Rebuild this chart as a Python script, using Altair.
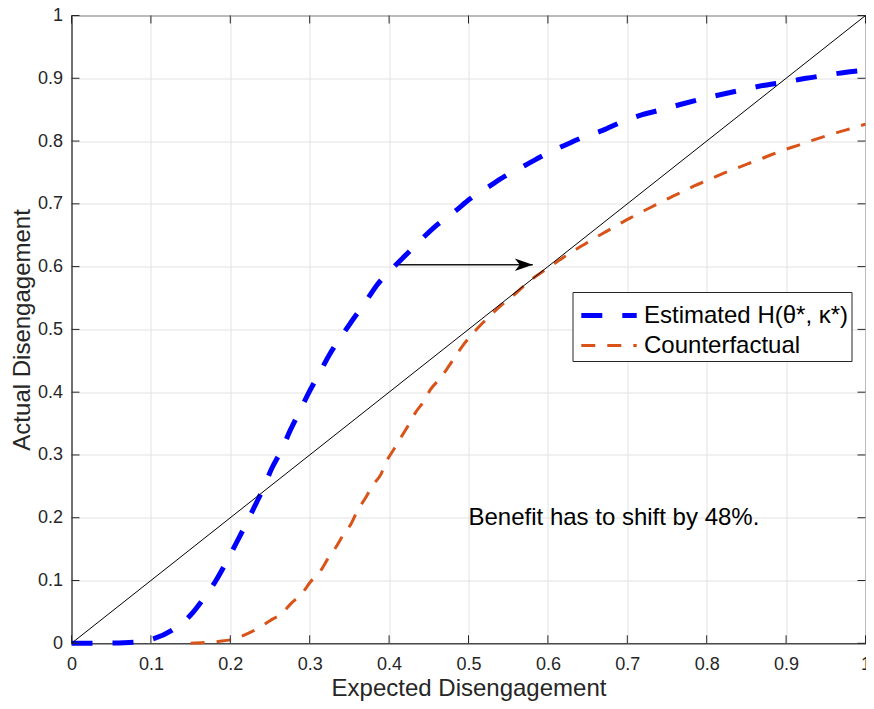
import altair as alt
import pandas as pd

# ---- data ----
series_names = ["Estimated H(θ*, κ*)", "Counterfactual"]

est_x = [0, 0.05, 0.08, 0.10, 0.127, 0.15, 0.165, 0.181, 0.194, 0.206, 0.219, 0.231, 0.242,
         0.252, 0.265, 0.275, 0.2875, 0.30, 0.3125, 0.325, 0.34, 0.354, 0.371, 0.385, 0.404,
         0.423, 0.442, 0.46, 0.483, 0.502, 0.525, 0.546, 0.571, 0.594, 0.619, 0.642, 0.669,
         0.692, 0.719, 0.743, 0.769, 0.794, 0.821, 0.847, 0.873, 0.899, 0.925, 0.951, 0.978, 1.0]
est_y = [0, 0.0005, 0.002, 0.006, 0.021, 0.045, 0.069, 0.098, 0.127, 0.156, 0.188, 0.219, 0.248,
         0.278, 0.309, 0.338, 0.370, 0.402, 0.431, 0.460, 0.489, 0.515, 0.545, 0.571, 0.597,
         0.621, 0.645, 0.666, 0.688, 0.708, 0.727, 0.744, 0.761, 0.777, 0.792, 0.805, 0.817,
         0.830, 0.842, 0.850, 0.859, 0.867, 0.875, 0.882, 0.889, 0.894, 0.900, 0.905, 0.910, 0.913]

cf_x = [0.15, 0.185, 0.202, 0.221, 0.235, 0.25, 0.265, 0.277, 0.29, 0.301, 0.314, 0.323, 0.333,
        0.342, 0.352, 0.36, 0.371, 0.379, 0.39, 0.396, 0.406, 0.415, 0.425, 0.433, 0.444, 0.452,
        0.465, 0.475, 0.485, 0.494, 0.52, 0.54, 0.56, 0.577, 0.598, 0.614, 0.627, 0.644, 0.658,
        0.675, 0.69, 0.706, 0.721, 0.737, 0.754, 0.771, 0.785, 0.802, 0.818, 0.834, 0.85, 0.867,
        0.883, 0.90, 0.917, 0.933, 0.95, 0.968, 0.985, 1.0]
cf_y = [0.0, 0.003, 0.006, 0.015, 0.024, 0.036, 0.048, 0.064, 0.079, 0.098, 0.116, 0.135, 0.153,
        0.172, 0.190, 0.211, 0.233, 0.251, 0.270, 0.288, 0.309, 0.328, 0.349, 0.367, 0.386, 0.404,
        0.423, 0.441, 0.460, 0.476, 0.513, 0.537, 0.558, 0.577, 0.596, 0.610, 0.621, 0.634, 0.645,
        0.657, 0.668, 0.679, 0.689, 0.699, 0.710, 0.720, 0.729, 0.738, 0.747, 0.755, 0.763, 0.771,
        0.779, 0.787, 0.794, 0.801, 0.808, 0.815, 0.821, 0.827]

diag_x = [0, 1]
diag_y = [0, 1]

arrow_x_start = [0.4125]
arrow_x_end = [0.581]
arrow_y = [0.603]

note_x = [0.5]
note_y = [0.2]
note_text = ["Benefit has to shift by 48%."]

tick_values = [0, 0.1, 0.2, 0.3, 0.4, 0.5, 0.6, 0.7, 0.8, 0.9, 1]

# ---- styling ----
W, H = 794, 627.8
AX = "#262626"
FONT = "Liberation Sans"
colors = ["#0000ff", "#d95319"]
dashes = [[21, 20], [14, 12]]
widths = [5, 3]

curves = pd.concat([
    pd.DataFrame({"x": est_x, "y": est_y, "series": series_names[0]}),
    pd.DataFrame({"x": cf_x, "y": cf_y, "series": series_names[1]}),
])
diag = pd.DataFrame({"x": diag_x, "y": diag_y})
arrow = pd.DataFrame({"x": arrow_x_start, "x2": arrow_x_end, "y": arrow_y})
note = pd.DataFrame({"x": note_x, "y": note_y, "t": note_text})
ticks_x = pd.DataFrame({"x": tick_values})
ticks_y = pd.DataFrame({"y": tick_values})
one = pd.DataFrame({"k": [0]})

xs = alt.Scale(domain=[0, 1], nice=False, zero=False)
ys = alt.Scale(domain=[0, 1], nice=False, zero=False)

x_enc = alt.X("x:Q", scale=xs, axis=alt.Axis(
    values=tick_values, format="~g", title="Expected Disengagement", grid=True,
    ticks=False, labelPadding=12.5, titlePadding=2.5, labelFlush=False, labelOverlap=False))
y_enc = alt.Y("y:Q", scale=ys, axis=alt.Axis(
    values=tick_values, format="~g", title="Actual Disengagement", grid=True,
    ticks=False, labelPadding=9, titlePadding=3, labelFlush=False, labelOverlap=False))

lines = alt.Chart(curves).mark_line(interpolate="monotone", strokeCap="butt").encode(
    x=x_enc, y=y_enc,
    color=alt.Color("series:N", scale=alt.Scale(domain=series_names, range=colors), legend=None),
    strokeDash=alt.StrokeDash("series:N", scale=alt.Scale(domain=series_names, range=dashes),
                              legend=None),
    strokeWidth=alt.StrokeWidth("series:N", scale=alt.Scale(domain=series_names, range=widths),
                                legend=None),
)

diag_line = alt.Chart(diag).mark_line(color="black", strokeWidth=1).encode(x="x:Q", y="y:Q")

arrow_line = alt.Chart(arrow).mark_rule(color="#1a1a1a", strokeWidth=1.5).encode(
    x="x:Q", x2="x2", y="y:Q")
arrow_head = alt.Chart(arrow).mark_point(
    shape="M 0 0 L -2 -0.7 L -1.45 0 L -2 0.7 Z", size=324, filled=True,
    color="black", opacity=1).encode(x="x2:Q", y="y:Q")

note_text_layer = alt.Chart(note).mark_text(
    align="left", baseline="middle", font=FONT, fontSize=24, color="black").encode(
    x="x:Q", y="y:Q", text="t:N")

tb = alt.Chart(ticks_x).mark_rule(color=AX, strokeWidth=1).encode(
    x="x:Q", y=alt.value(H), y2=alt.value(H - 8))
tt = alt.Chart(ticks_x).mark_rule(color=AX, strokeWidth=1).encode(
    x="x:Q", y=alt.value(0), y2=alt.value(8))
tl = alt.Chart(ticks_y).mark_rule(color=AX, strokeWidth=1).encode(
    y="y:Q", x=alt.value(0), x2=alt.value(8))
tr = alt.Chart(ticks_y).mark_rule(color=AX, strokeWidth=1).encode(
    y="y:Q", x=alt.value(W), x2=alt.value(W - 8))

# ---- legend box (MATLAB style) ----
LX0, LX1, LY0, LY1 = 501.5, 780.5, 277, 346
ROW = [300, 330]
SYM0, SYM1, LAB = 509.8, 565.2, 572.5

leg_box = alt.Chart(one).mark_rect(fill="white", stroke=AX, strokeWidth=1).encode(
    x=alt.value(LX0), x2=alt.value(LX1), y=alt.value(LY0), y2=alt.value(LY1))
leg_layers = [leg_box]
for i, name in enumerate(series_names):
    leg_layers.append(
        alt.Chart(one).mark_rule(color=colors[i], strokeWidth=widths[i], strokeDash=dashes[i],
                                 strokeCap="butt").encode(
            x=alt.value(SYM0), x2=alt.value(SYM1), y=alt.value(ROW[i])))
    leg_layers.append(
        alt.Chart(one).mark_text(text=name, align="left", baseline="middle", font=FONT,
                                 fontSize=24, color="black").encode(
            x=alt.value(LAB), y=alt.value(ROW[i])))

chart = alt.layer(
    lines, diag_line, arrow_line, arrow_head, note_text_layer, tb, tt, tl, tr, *leg_layers
).properties(
    width=W, height=H, autosize="none",
    padding={"left": 63.5, "top": 7.5, "right": 0.5, "bottom": 57.2},
).configure_view(
    stroke=AX, strokeWidth=1
).configure_axis(
    domainColor=AX, domainWidth=1, gridColor="#e2e2e2", gridWidth=1,
    labelFont=FONT, labelFontSize=18, labelColor=AX,
    titleFont=FONT, titleFontSize=24, titleColor=AX, titleFontWeight="normal",
)

chart.save("out.html", embed_options={"renderer": "svg", "actions": False})
